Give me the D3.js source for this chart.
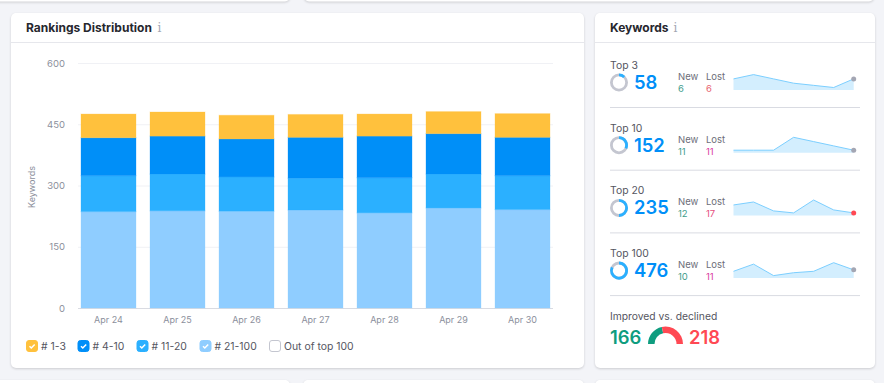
<!DOCTYPE html>
<html>
<head>
<meta charset="utf-8">
<script src="https://cdn.jsdelivr.net/npm/d3@7"></script>
<style>
  html, body { margin: 0; padding: 0; background: #f3f4f8; overflow: hidden; }
  svg { display: block; font-family: Inter, "Noto Sans", sans-serif; }
  .card { fill: #fff; filter: drop-shadow(0 1px 1px rgba(25, 27, 35, .18)); }
</style>
</head>
<body>
<div id="chart"></div>
<script>
const days = ["Apr 24", "Apr 25", "Apr 26", "Apr 27", "Apr 28", "Apr 29", "Apr 30"];
const pos21to100 = [236, 238, 237, 240, 233, 245, 241];
const pos11to20 = [88, 90, 84, 78, 86, 83, 83];
const pos4to10 = [93, 93, 93, 100, 102, 99, 94];
const pos1to3 = [58, 59, 58, 56, 54, 54, 58];
const yTicks = [0, 150, 300, 450, 600];

const legendLabels = ["# 1-3", "# 4-10", "# 11-20", "# 21-100", "Out of top 100"];
const legendColors = ["#ffc13d", "#008ff8", "#2bb0ff", "#8fcdff", "#fff"];

const rowNames = ["Top 3", "Top 10", "Top 20", "Top 100"];
const rowTotals = [58, 152, 235, 476];
const rowShares = [0.12, 0.32, 0.5, 0.82];
const rowNew = [6, 11, 12, 10];
const rowLost = [6, 11, 17, 11];
const rowLostColors = ["#e8636f", "#d93aa0", "#e6507f", "#d93aa0"];
const rowDotColors = ["#a4a6b3", "#a4a6b3", "#ff4953", "#a4a6b3"];
const sparkTop3 = [58, 60, 58, 56, 55, 54, 58];
const sparkTop10 = [152, 152, 152, 158, 156, 154, 152];
const sparkTop20 = [243, 246, 237, 235, 248, 238, 235];
const sparkTop100 = [475, 480, 472, 474, 475, 481, 476];
const sparks = [sparkTop3, sparkTop10, sparkTop20, sparkTop100];

const improved = 166;
const declined = 218;

const svg = d3.select("#chart").append("svg")
    .attr("width", 884)
    .attr("height", 383);

// cards, including the edges of the neighbours above and below
const cards = [
    [-10, -40, 300, 41.5], [304, -40, 570, 41.5],
    [11, 13, 573, 355], [595, 13, 280, 355],
    [-10, 380, 300, 40], [303, 380, 281, 40], [595, 380, 280, 40]
];
svg.selectAll(".card")
    .data(cards)
    .enter().append("rect")
    .attr("class", "card")
    .attr("x", d => d[0]).attr("y", d => d[1])
    .attr("width", d => d[2]).attr("height", d => d[3])
    .attr("rx", 5);

svg.selectAll(".headline")
    .data([[11, 584], [595, 875]])
    .enter().append("line")
    .attr("class", "headline")
    .attr("x1", d => d[0]).attr("x2", d => d[1])
    .attr("y1", 42.5).attr("y2", 42.5)
    .attr("stroke", "#e6e7ec");

function title(text, x, infoX) {
    svg.append("text").attr("x", x).attr("y", 32)
        .attr("font-size", 12).attr("font-weight", 700).attr("fill", "#26272e")
        .text(text);
    svg.append("text").attr("x", infoX).attr("y", 32)
        .attr("font-size", 12).attr("font-family", "DejaVu Serif")
        .attr("text-anchor", "middle").attr("fill", "#a4a6b3")
        .text("i");
}
title("Rankings Distribution", 26, 159.5);
title("Keywords", 610, 675.5);

// stacked bars
const rows = days.map((day, i) => ({
    day,
    pos21to100: pos21to100[i],
    pos11to20: pos11to20[i],
    pos4to10: pos4to10[i],
    pos1to3: pos1to3[i]
}));
const stackKeys = ["pos21to100", "pos11to20", "pos4to10", "pos1to3"];
const stackColors = ["#8fcdff", "#2bb0ff", "#008ff8", "#ffc13d"];
const stacked = d3.stack().keys(stackKeys)(rows);

const xScale = d3.scaleBand()
    .domain(days)
    .range([74, 557])
    .paddingInner(0.203)
    .paddingOuter(0.1015);

const yScale = d3.scaleLinear()
    .domain([0, 600])
    .range([308, 63]);

const yAxisG = svg.append("g")
    .attr("transform", "translate(78,0)")
    .call(d3.axisLeft(yScale).tickValues(yTicks).tickSizeInner(-475).tickSizeOuter(0).tickPadding(13));
yAxisG.select(".domain").remove();
yAxisG.selectAll("line").attr("stroke", d => d === 0 ? "#d9dbe2" : "#f0f1f5");
yAxisG.selectAll("text")
    .attr("font-family", "Inter").attr("font-size", 9.5).attr("fill", "#8c8f9c");

const xAxisG = svg.append("g")
    .attr("transform", "translate(0,308)")
    .call(d3.axisBottom(xScale).tickSize(0).tickPadding(9));
xAxisG.select(".domain").remove();
xAxisG.selectAll("text")
    .attr("font-family", "Inter").attr("font-size", 9).attr("fill", "#8c8f9c");

svg.append("text")
    .attr("transform", "translate(35,187) rotate(-90)")
    .attr("text-anchor", "middle")
    .attr("font-size", 9).attr("fill", "#8c8f9c")
    .text("Keywords");

svg.selectAll(".layer")
    .data(stacked)
    .enter().append("g")
    .attr("class", "layer")
    .attr("fill", (d, i) => stackColors[i])
    .attr("stroke", (d, i) => stackColors[i])
    .attr("stroke-opacity", 0.3)
    .selectAll("rect")
    .data(d => d)
    .enter().append("rect")
    .attr("x", d => xScale(d.data.day))
    .attr("width", xScale.bandwidth())
    .attr("y", d => yScale(d[1]))
    .attr("height", d => yScale(d[0]) - yScale(d[1]));

// legend
const legendX = [26, 77.5, 136.5, 199.5, 269];
const legend = svg.selectAll(".legend")
    .data(legendLabels)
    .enter().append("g")
    .attr("class", "legend")
    .attr("transform", (d, i) => `translate(${legendX[i]},340)`);
legend.append("rect")
    .attr("x", 0.5).attr("y", 0.5)
    .attr("width", 11).attr("height", 11).attr("rx", 2.5)
    .attr("fill", (d, i) => legendColors[i])
    .attr("stroke", (d, i) => i === 4 ? "#c4c6d0" : legendColors[i]);
legend.filter((d, i) => i < 4).append("path")
    .attr("d", "M3.5 6.2L5.3 8L8.7 4.4")
    .attr("fill", "none").attr("stroke", "#fff").attr("stroke-width", 1.5);
legend.append("text")
    .attr("x", 15).attr("y", 10)
    .attr("font-size", 10.4).attr("fill", "#55565f")
    .text(d => d);

// keyword rows
const rowStep = 62.7;
const sparkX = d3.scalePoint().domain(days).range([733.5, 853.7]);
const ring = d3.arc().innerRadius(6.2).outerRadius(9);

rowNames.forEach((name, i) => {
    const base = 90 + rowStep * i;
    const g = svg.append("g");

    g.append("text").attr("x", 610).attr("y", base - 21)
        .attr("font-size", 10.4).attr("fill", "#55565f").text(name);

    g.append("path")
        .attr("transform", `translate(619,${base - 7.5})`)
        .attr("d", ring({startAngle: 0, endAngle: 2 * Math.PI}))
        .attr("fill", "#c4c6d0");
    g.append("path")
        .attr("transform", `translate(619,${base - 7.5})`)
        .attr("d", ring({startAngle: 0, endAngle: 2 * Math.PI * rowShares[i]}))
        .attr("fill", "#2bb0ff");

    g.append("text").attr("x", 634).attr("y", base - 1)
        .attr("font-size", 18.4).attr("font-weight", 600).attr("fill", "#008ff8")
        .text(rowTotals[i]);

    g.append("text").attr("x", 678).attr("y", base - 10)
        .attr("font-size", 9.5).attr("fill", "#6c6e79").text("New");
    g.append("text").attr("x", 706).attr("y", base - 10)
        .attr("font-size", 9.5).attr("fill", "#6c6e79").text("Lost");
    g.append("text").attr("x", 678).attr("y", base + 2)
        .attr("font-size", 9.5).attr("fill", "#3f9d8c").text(rowNew[i]);
    g.append("text").attr("x", 706).attr("y", base + 2)
        .attr("font-size", 9.5).attr("fill", rowLostColors[i]).text(rowLost[i]);

    const sy = d3.scaleLinear()
        .domain(d3.extent(sparks[i]))
        .range([base - 2.5, base - 15.4]);
    const points = sparks[i].map((v, j) => ({day: days[j], v}));

    g.append("path").datum(points)
        .attr("fill", "#d3eefe")
        .attr("d", d3.area().x(d => sparkX(d.day)).y0(base).y1(d => sy(d.v)));
    g.append("path").datum(points)
        .attr("fill", "none").attr("stroke", "#7ccfff").attr("stroke-width", 1)
        .attr("d", d3.line().x(d => sparkX(d.day)).y(d => sy(d.v)));
    g.append("circle")
        .attr("cx", sparkX(days[6])).attr("cy", sy(sparks[i][6])).attr("r", 2.5)
        .attr("fill", rowDotColors[i]);

    g.append("line")
        .attr("x1", 610).attr("x2", 860)
        .attr("y1", base + 17.5).attr("y2", base + 17.5)
        .attr("stroke", "#d9dbe2");
});

// improved vs. declined
svg.append("text").attr("x", 610).attr("y", 320)
    .attr("font-size", 10.3).attr("fill", "#55565f").text("Improved vs. declined");
svg.append("text").attr("x", 610).attr("y", 344)
    .attr("font-size", 18.4).attr("font-weight", 600).attr("fill", "#0f9d7f").text(improved);
svg.append("text").attr("x", 689).attr("y", 344)
    .attr("font-size", 18.4).attr("font-weight", 600).attr("fill", "#ff4953").text(declined);

const gauge = d3.arc().innerRadius(11).outerRadius(17.5);
const gaugeAngle = d3.scaleLinear().domain([0, improved + declined]).range([-Math.PI / 2, Math.PI / 2]);
svg.append("path")
    .attr("transform", "translate(665.5,344)")
    .attr("d", gauge({startAngle: gaugeAngle(0), endAngle: gaugeAngle(improved)}))
    .attr("fill", "#0f9d7f");
svg.append("path")
    .attr("transform", "translate(665.5,344)")
    .attr("d", gauge({startAngle: gaugeAngle(improved), endAngle: gaugeAngle(improved + declined)}))
    .attr("fill", "#ff4953");
</script>
</body>
</html>
